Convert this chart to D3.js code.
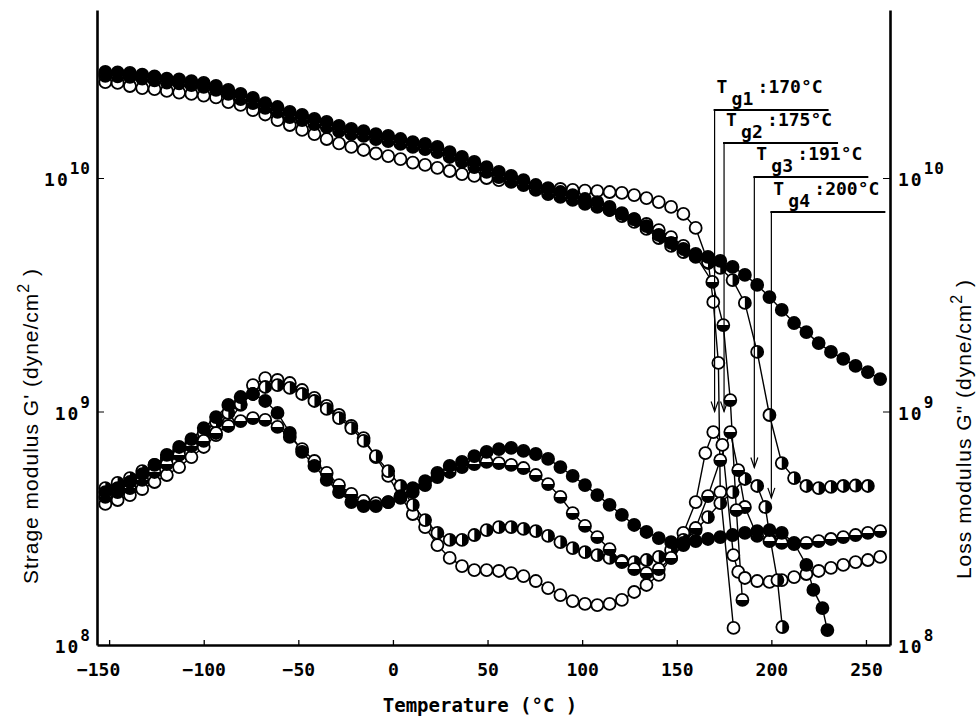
<!DOCTYPE html>
<html><head><meta charset="utf-8">
<script src="https://cdn.jsdelivr.net/npm/d3@7"></script>
<style>body{margin:0;background:#fff}svg{display:block}</style>
</head><body><svg id="c" width="977" height="717"></svg>
<script>
// ---- data (temperature in °C, moduli as log10 of dyne/cm²) ----
const temps = [-152,-145.5,-139,-132.5,-126,-119.5,-113,-106.5,-100,-93.5,-87,-80.5,-74,-67.5,-61,-54.5,-48,-41.5,-35,-28.5,-22,-15.5,-9,-2.5,4,10.5,17,23.5,30,36.5,43,49.5,56,62.5,69,75.5,82,88.5,95,101.5,108,114.5,121,127.5,134,140.5,147,153.5,160,166.5,173,179.5,186,192.5,199,205.5,212,218.5,225,231.5,238,244.5,251,257.5];

// storage modulus G'
const storageFilled = [10.454,10.452,10.450,10.443,10.435,10.426,10.422,10.415,10.407,10.394,10.377,10.360,10.343,10.321,10.304,10.283,10.270,10.253,10.240,10.223,10.210,10.201,10.188,10.180,10.167,10.154,10.146,10.133,10.111,10.090,10.069,10.047,10.026,10.009,9.991,9.970,9.953,9.940,9.927,9.910,9.897,9.876,9.850,9.824,9.794,9.756,9.722,9.696,9.675,9.662,9.645,9.619,9.585,9.542,9.490,9.435,9.379,9.340,9.293,9.255,9.225,9.195,9.169,9.139];
const storageOpen = [10.411,10.407,10.394,10.385,10.381,10.373,10.366,10.360,10.353,10.345,10.325,10.313,10.291,10.272,10.248,10.227,10.206,10.188,10.167,10.148,10.133,10.120,10.105,10.094,10.081,10.066,10.056,10.043,10.030,10.017,10.009,10.000,9.991,9.983,9.974,9.961,9.957,9.953,9.949,9.946,9.944,9.940,9.936,9.927,9.914,9.897,9.876,9.846,9.786];
const storageOpenTail = [[166.7,9.636],[169.3,9.469],[172,9.208],[173,8.655],[180,8.073]];
const storageBottomHalf = [10.437,10.435,10.433,10.426,10.418,10.409,10.405,10.398,10.390,10.377,10.360,10.338,10.321,10.300,10.283,10.261,10.248,10.231,10.218,10.201,10.188,10.180,10.167,10.158,10.146,10.133,10.124,10.111,10.090,10.069,10.047,10.026,10.004,9.987,9.970,9.949,9.931,9.919,9.906,9.889,9.876,9.863,9.846,9.824,9.803,9.777,9.747,9.709,9.666];
const storageBottomHalfTail = [[168.8,9.555],[174.6,9.370],[178.3,9.049],[181.5,8.578],[184.7,8.193]];
const storageRightHalf = [10.445,10.443,10.441,10.435,10.426,10.418,10.413,10.407,10.398,10.385,10.368,10.351,10.334,10.313,10.296,10.274,10.261,10.244,10.231,10.214,10.201,10.193,10.180,10.171,10.158,10.146,10.137,10.124,10.098,10.077,10.056,10.034,10.013,9.996,9.979,9.957,9.940,9.927,9.914,9.897,9.884,9.863,9.837,9.812,9.782,9.743,9.709,9.683,9.662,9.640,9.615,9.563,9.465,9.255,8.985,8.779,8.715,8.681,8.672,8.677,8.681,8.683,8.681];

// loss modulus G''
const lossFilled = [8.655,8.672,8.698,8.732,8.771,8.814,8.848,8.882,8.929,8.976,9.028,9.062,9.075,9.045,8.994,8.908,8.827,8.767,8.707,8.655,8.612,8.595,8.595,8.612,8.638,8.672,8.702,8.737,8.767,8.784,8.809,8.827,8.839,8.844,8.831,8.818,8.797,8.762,8.724,8.685,8.642,8.600,8.557,8.514,8.484,8.458,8.441,8.437,8.445,8.454,8.462,8.471,8.480,8.488,8.492,8.480,8.437,8.343];
const lossFilledTail = [[222.2,8.236],[227,8.158],[229.6,8.064]];
const lossOpen = [8.604,8.621,8.642,8.668,8.698,8.728,8.762,8.805,8.848,8.899,8.951,9.028,9.113,9.143,9.135,9.122,9.092,9.058,9.024,8.985,8.938,8.886,8.805,8.724,8.634,8.561,8.505,8.428,8.373,8.338,8.321,8.321,8.317,8.308,8.295,8.274,8.244,8.214,8.188,8.176,8.171,8.176,8.193,8.227,8.257,8.300,8.373,8.480,8.612,null,null,null,8.287,8.274,8.270,8.278,8.291,8.304,8.317,8.330,8.343,8.355,8.364,8.377];
const lossOpenExtra = [[165.1,8.822],[169.3,8.912],[174.1,8.857],[179.9,8.385],[182.5,8.313]];
const lossBottomHalf = [8.634,8.655,8.672,8.707,8.741,8.775,8.814,8.852,8.874,8.908,8.938,8.959,8.972,8.964,8.934,8.891,8.839,8.788,8.737,8.685,8.647,8.617,8.608,8.612,8.630,8.655,8.685,8.719,8.741,8.762,8.775,8.784,8.779,8.771,8.758,8.728,8.689,8.634,8.565,8.510,8.462,8.411,8.355,8.325,8.308,8.325,8.373,8.428,8.501,8.638,8.792,null,8.591,8.467,8.445,8.437,8.432,8.437,8.445,8.454,8.462,8.471,8.480,8.488];
const lossBottomHalfExtra = [[178.3,8.912],[182.5,8.749]];
const lossRightHalf = [8.672,8.694,8.715,8.745,8.771,8.801,8.835,8.869,8.908,8.955,8.994,9.032,9.075,9.105,9.113,9.101,9.075,9.045,9.011,8.972,8.929,8.874,8.809,8.745,8.681,8.600,8.535,8.480,8.450,8.450,8.471,8.492,8.505,8.505,8.497,8.488,8.467,8.441,8.415,8.398,8.385,8.373,8.360,8.355,8.364,8.377,8.407,8.450,8.492,8.548,8.608,8.655,8.711,8.681];
const lossRightHalfExtra = [[196.8,8.591],[199.5,8.450],[203.2,8.278],[205.8,8.077]];

// axes / annotations
const xTicks = [-150,-100,-50,0,50,100,150,200,250];
const yTickExps = [8,9,10];
const tgIndex = ["1","2","3","4"];
const tgValues = [170,175,191,200];
const tgBracketLog = [10.291,10.150,10.004,9.854];
const tgArrowTipLog = [9.0,9.0,8.76,8.63];

// ---- layout ----
const L = 97, R = 890, T = 10, B = 645;
const MONO = "'DejaVu Sans Mono', monospace";
const SANS = "'Liberation Sans', Arial, sans-serif";
const x = d3.scaleLinear().domain([-156.4, 262.7]).range([L, R]);
const y = d3.scaleLog().domain([1e8, Math.pow(10, 10.7195)]).range([B, T]);
const svg = d3.select('#c');

function pts(vals, extra) {
  const p = [];
  vals.forEach((v, i) => { if (v != null) p.push([temps[i], v]); });
  (extra || []).forEach(e => p.push(e));
  p.sort((a, b) => a[0] - b[0]);
  return p;
}
const series = [
  {p: pts(lossOpen, lossOpenExtra), m: 'open'},
  {p: pts(storageOpen, storageOpenTail), m: 'open'},
  {p: pts(lossRightHalf, lossRightHalfExtra), m: 'right'},
  {p: pts(storageRightHalf), m: 'right'},
  {p: pts(lossBottomHalf, lossBottomHalfExtra), m: 'bottom'},
  {p: pts(storageBottomHalf, storageBottomHalfTail), m: 'bottom'},
  {p: pts(lossFilled, lossFilledTail), m: 'filled'},
  {p: pts(storageFilled), m: 'filled'}
];

const line = d3.line().x(d => x(d[0])).y(d => y(Math.pow(10, d[1])));
const gLines = svg.append('g');
series.forEach(s => gLines.append('path').attr('d', line(s.p))
  .attr('fill', 'none').attr('stroke', '#000').attr('stroke-width', 1.4));

const r = 6;
const gM = svg.append('g');
series.forEach(s => {
  const g = gM.append('g');
  const mk = g.selectAll('g').data(s.p).join('g')
    .attr('transform', d => `translate(${x(d[0])},${y(Math.pow(10, d[1]))})`);
  mk.append('circle').attr('r', r)
    .attr('fill', s.m === 'filled' ? '#000' : '#fff')
    .attr('stroke', '#000').attr('stroke-width', 1.8);
  if (s.m === 'bottom') mk.append('path').attr('d', `M${-r},0A${r},${r} 0 0 0 ${r},0Z`).attr('fill', '#000');
  if (s.m === 'right') mk.append('path').attr('d', `M0,${-r}A${r},${r} 0 0 1 0,${r}Z`).attr('fill', '#000');
});

// ---- axes ----
const gx = svg.append('g').attr('transform', `translate(0,${B})`)
  .call(d3.axisBottom(x).tickValues(xTicks).tickSizeInner(-5).tickSizeOuter(0)
    .tickFormat(d => d < 0 ? '\u2212' + Math.abs(d) : String(d)));
gx.select('.domain').attr('stroke-width', 2.6);
gx.selectAll('.tick line').attr('stroke-width', 1.3);
gx.selectAll('.tick text').attr('y', 18).attr('font-family', MONO).attr('font-weight', 'bold')
  .attr('font-size', 18).attr('fill', '#000')
  .attr('dx', d => d === -150 ? -11 : 0);

const yTickVals = yTickExps.map(e => Math.pow(10, e));
const gl = svg.append('g').attr('transform', `translate(${L},0)`)
  .call(d3.axisLeft(y).tickValues(yTickVals.slice(1)).tickSizeInner(-7).tickSizeOuter(0).tickFormat(''));
gl.select('.domain').attr('stroke-width', 2.6);
const gr = svg.append('g').attr('transform', `translate(${R},0)`)
  .call(d3.axisRight(y).tickValues(yTickVals.slice(1)).tickSizeInner(-7).tickSizeOuter(0).tickFormat(''));
gr.select('.domain').attr('stroke-width', 2.6);

function powLabel(px, e, anchor) {
  const t = svg.append('text').attr('x', px).attr('y', y(Math.pow(10, e)) + 8)
    .attr('text-anchor', anchor).attr('font-family', MONO).attr('font-weight', 'bold')
    .attr('font-size', 18);
  t.append('tspan').attr('letter-spacing', 2).text('10');
  t.append('tspan').attr('dy', -12).attr('font-size', 16).attr('letter-spacing', 1).text(String(e));
}
yTickExps.forEach(e => { powLabel(91, e, 'end'); powLabel(898, e, 'start'); });

// axis titles
svg.append('text').attr('x', 480).attr('y', 712).attr('text-anchor', 'middle')
  .attr('font-family', MONO).attr('font-weight', 'bold').attr('font-size', 19)
  .text('Temperature (\u00B0C )');

function yTitle(cx, cy, label) {
  const t = svg.append('text').attr('transform', `translate(${cx},${cy}) rotate(-90)`)
    .attr('text-anchor', 'middle').attr('font-family', SANS).attr('font-size', 21)
    .attr('letter-spacing', 1).attr('fill', '#000');
  t.append('tspan').text(label + ' (dyne/cm');
  t.append('tspan').attr('dy', -9).attr('font-size', 16).text('2');
  t.append('tspan').attr('dy', 9).text(' )');
}
yTitle(38, 426, "Strage modulus G'");
yTitle(971, 429, 'Loss modulus G"');

// ---- Tg annotations ----
tgValues.forEach((tg, i) => {
  const vx = x(tg);
  const by = y(Math.pow(10, tgBracketLog[i]));
  const tip = y(Math.pow(10, tgArrowTipLog[i]));
  const g = svg.append('g').attr('stroke', '#000').attr('fill', 'none');
  g.append('line').attr('x1', vx).attr('x2', vx).attr('y1', by).attr('y2', tip).attr('stroke-width', 1.2);
  g.append('path').attr('d', `M${vx - 3.5},${tip - 10}L${vx},${tip}L${vx + 3.5},${tip - 10}`).attr('stroke-width', 1.2);
  g.append('line').attr('x1', vx - 1).attr('x2', vx + 114).attr('y1', by).attr('y2', by).attr('stroke-width', 2);
  const tx = svg.append('g').attr('font-family', MONO).attr('font-weight', 'bold').attr('font-size', 18).attr('fill', '#000');
  tx.append('text').attr('x', vx + 2).attr('y', by - 17).text('T');
  tx.append('text').attr('x', vx + 17).attr('y', by - 5).text('g' + tgIndex[i]);
  tx.append('text').attr('x', vx + 43).attr('y', by - 17).text(':' + tg + '\u00B0C');
});
</script></body></html>
